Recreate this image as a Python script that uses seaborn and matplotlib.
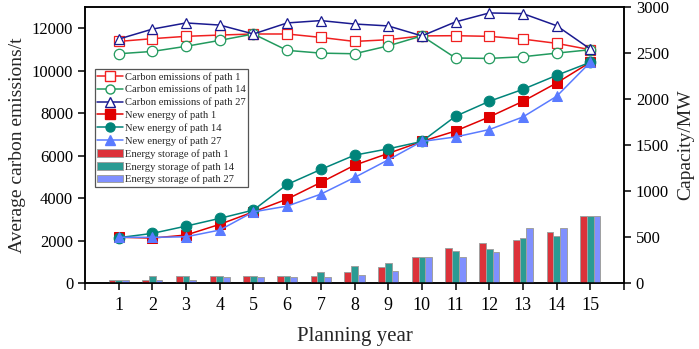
import numpy as np
import pandas as pd
import matplotlib
matplotlib.use("Agg")
import matplotlib.pyplot as plt
import seaborn as sns
from matplotlib.lines import Line2D
from matplotlib.patches import Patch

years = list(range(1, 16))
carbon_p1 = [11380, 11510, 11620, 11680, 11730, 11730, 11570, 11380, 11460, 11640, 11650, 11620, 11490, 11290, 10990]
carbon_p14 = [10800, 10910, 11150, 11430, 11730, 10960, 10830, 10800, 11170, 11640, 10600, 10580, 10660, 10830, 10990]
carbon_p27 = [11490, 11960, 12250, 12150, 11730, 12250, 12360, 12200, 12110, 11640, 12300, 12720, 12690, 12120, 11020]
newen_p1 = [500, 491, 524, 640, 776, 914, 1095, 1282, 1410, 1540, 1654, 1806, 1976, 2175, 2400]
newen_p14 = [495, 542, 621, 705, 795, 1073, 1236, 1391, 1460, 1540, 1814, 1976, 2106, 2258, 2400]
newen_p27 = [500, 499, 505, 578, 776, 838, 968, 1149, 1340, 1540, 1589, 1669, 1806, 2030, 2400]
store_p1 = [36, 36, 79, 79, 79, 79, 79, 126, 180, 289, 379, 440, 469, 559, 730]
store_p14 = [36, 79, 79, 79, 79, 79, 119, 191, 223, 289, 354, 372, 488, 513, 730]
store_p27 = [36, 36, 36, 65, 65, 65, 65, 87, 133, 289, 289, 339, 596, 596, 730]

sns.set_style("ticks")
plt.rcParams['font.family'] = ['Liberation Serif', 'DejaVu Serif']
plt.rcParams['mathtext.fontset'] = 'stix'

fig = plt.figure(figsize=(6.99, 3.49), dpi=100)
ax = fig.add_axes([85/699, (349-283.3)/349, (624-85)/699, (283.3-7)/349])
ax2 = ax.twinx()

# bars on right axis
bars = pd.DataFrame({
    "year": years * 3,
    "cap": store_p1 + store_p14 + store_p27,
    "series": (["Energy storage of path 1"] * 15 + ["Energy storage of path 14"] * 15
               + ["Energy storage of path 27"] * 15),
})
bar_cols = ["#DC323A", "#2B9B93", "#8090FF"]
sns.barplot(data=bars, x="year", y="cap", hue="series", native_scale=True,
            palette=bar_cols, width=0.6, saturation=1, errorbar=None,
            edgecolor="#a0a0a0", linewidth=0.7, legend=False, ax=ax2, zorder=2)

lw = 1.1
ms = 6.5
# new energy lines (right axis)
ne_specs = [
    (newen_p1, "#E00000", "s", "New energy of path 1"),
    (newen_p14, "#00847A", "o", "New energy of path 14"),
    (newen_p27, "#5A7BFF", "^", "New energy of path 27"),
]
for vals, c, m, lab in ne_specs:
    sns.lineplot(x=years, y=vals, color=c, marker=m, markersize=ms + 1.2, markeredgecolor=c,
                 markerfacecolor=c, linewidth=lw, legend=False, ax=ax2, zorder=4)

# carbon lines (left axis)
ce_specs = [
    (carbon_p1, "#F02020", "s", "Carbon emissions of path 1"),
    (carbon_p14, "#229A5E", "o", "Carbon emissions of path 14"),
    (carbon_p27, "#1A1A90", "^", "Carbon emissions of path 27"),
]
for vals, c, m, lab in ce_specs:
    sns.lineplot(x=years, y=vals, color=c, marker=m, markersize=ms + 1, markeredgecolor=c,
                 markerfacecolor="white", markeredgewidth=0.9, linewidth=lw, legend=False,
                 ax=ax, zorder=4)

ax.set_xlim(0, 16)
ax.set_ylim(0, 13000)
ax2.set_ylim(0, 3000)
ax.set_yticks(range(0, 12001, 2000))
ax2.set_yticks(range(0, 3001, 500))
ax.set_xticks(range(0, 17))
ax.set_xticklabels([""] + [str(y) for y in years] + [""])
ax2.set_xlim(0, 16)

for a in (ax, ax2):
    for s in a.spines.values():
        s.set_linewidth(1.1)
        s.set_color("black")
    a.tick_params(direction="out", length=5, width=1.1, labelsize=12, colors="black")
ax.tick_params(axis="x", pad=5, labelsize=13)

ax.set_xlabel("Planning year", fontsize=15, labelpad=9)
ax.set_ylabel("Average carbon emissions/t", fontsize=14, labelpad=4)
ax2.set_ylabel("Capacity/MW", fontsize=14, labelpad=6)

handles = []
labels = []
for vals, c, m, lab in ce_specs:
    handles.append(Line2D([], [], color=c, marker=m, markersize=ms, markerfacecolor="white",
                          markeredgecolor=c, linewidth=lw))
    labels.append(lab)
for vals, c, m, lab in ne_specs:
    handles.append(Line2D([], [], color=c, marker=m, markersize=ms, markerfacecolor=c,
                          markeredgecolor=c, linewidth=lw))
    labels.append(lab)
for c, lab in zip(bar_cols, ["Energy storage of path 1", "Energy storage of path 14",
                             "Energy storage of path 27"]):
    handles.append(Patch(facecolor=c, edgecolor="#a0a0a0", linewidth=0.7))
    labels.append(lab)

leg = ax2.legend(handles, labels, loc="upper left", bbox_to_anchor=(0.018, 0.775),
                 borderaxespad=0, fontsize=7.6, frameon=True, fancybox=False,
                 handlelength=2.4, handletextpad=0.2, labelspacing=0.3,
                 borderpad=0.25, edgecolor="#555555", framealpha=1)
leg.get_frame().set_linewidth(0.9)
leg.set_zorder(10)

fig.savefig("out.png", dpi=100)
